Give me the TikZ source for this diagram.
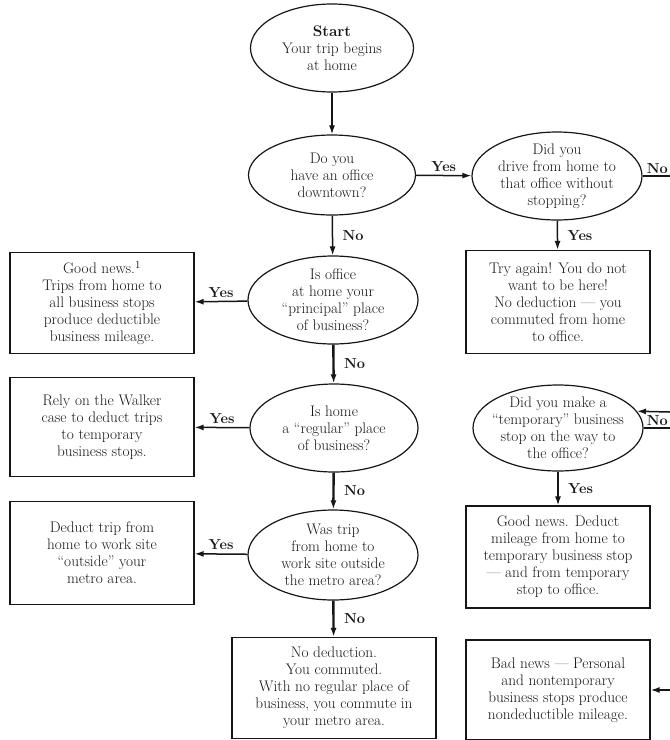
\documentclass[tikz,border=0pt]{standalone}
\usetikzlibrary{arrows.meta, positioning, shapes.geometric}
\definecolor{cink}{HTML}{161616}
\tikzset{
  every picture/.style={line width=1.2pt},
  qtext/.style={align=center, text=cink, font=\fontsize{15.3}{17}\selectfont},
  decision/.style={ellipse, draw=cink, minimum width=170pt, minimum height=88pt, inner sep=0pt},
  outcome/.style={rectangle, draw=cink, qtext, minimum width=184pt, minimum height=101pt, inner sep=3pt},
  flow/.style={-{Latex[length=9pt, width=6pt]}, draw=cink, line width=1.5pt},
  trunk/.style={flow, line width=2.4pt},
  wire/.style={draw=cink, line width=1.5pt},
  answer/.style={font=\bfseries\fontsize{14.5}{16}\selectfont, text=cink},
}

\begin{document}
\begin{tikzpicture}[x=1pt, y=-1pt]
  \useasboundingbox (0,0) rectangle (670,740);
  % main column of questions
  \node[decision, minimum width=163pt, label={[qtext]center:{\textbf{Start}\\Your trip begins\\at home}}] (start) at (332,48) {};
  \node[decision, minimum width=167pt, minimum height=80pt, label={[qtext]center:{Do you\\have an office\\downtown?}}] (office) at (332,175) {};
  \node[decision, label={[qtext]center:{Is office\\at home your\\``principal'' place\\of business?}}] (principal) at (333,300) {};
  \node[decision, minimum width=168pt, label={[qtext]center:{Is home\\a ``regular'' place\\of business?}}] (regular) at (334,428) {};
  \node[decision, minimum height=90pt, label={[qtext]center:{Was trip\\from home to\\work site outside\\the metro area?}}] (outside) at (333,555) {};
  \node[outcome, minimum width=204pt] (nodeduct) at (334,688) {No deduction.\\You commuted.\\With no regular place of\\business, you commute in\\your metro area.};
  % answers on the left
  \node[outcome] (goodnews) at (102,303) {Good news.\textsuperscript{1}\\Trips from home to\\all business stops\\produce deductible\\business mileage.};
  \node[outcome, minimum height=99pt] (walker) at (102,427) {Rely on the Walker\\case to deduct trips\\to temporary\\business stops.};
  \node[outcome, minimum height=103pt] (metro) at (102,553) {Deduct trip from\\home to work site\\``outside'' your\\metro area.};
  % the office branch on the right
  \node[decision, label={[qtext]center:{Did you\\drive from home to\\that office without\\stopping?}}] (drive) at (557,176) {};
  \node[outcome, minimum height=103pt] (tryagain) at (558,302) {Try again! You do not\\want to be here!\\No deduction --- you\\commuted from home\\to office.};
  \node[decision, minimum height=86pt, label={[qtext]center:{Did you make a\\``temporary'' business\\stop on the way to\\the office?}}] (temporary) at (558,428) {};
  \node[outcome, minimum height=102pt] (tempstop) at (558,557) {Good news. Deduct\\mileage from home to\\temporary business stop\\--- and from temporary\\stop to office.};
  \node[outcome, minimum height=100pt] (badnews) at (558,690) {Bad news --- Personal\\and nontemporary\\business stops produce\\nondeductible mileage.};
  % loose ends at the right margin
  \coordinate (driveno) at (670,176);
  \coordinate (tempin) at (670,412);
  \coordinate (tempno) at (670,428);
  \coordinate (badin) at (670,690);

  \draw[flow] (start) -- (office);
  \draw[flow] (office) -- (principal) node[answer, midway, right=6pt] {No};
  \draw[flow] (office) -- (drive) node[answer, midway, above] {Yes};
  \draw[flow] (principal) -- (goodnews) node[answer, midway, above] {Yes};
  \draw[trunk] (principal) -- (regular) node[answer, midway, right=6pt] {No};
  \draw[flow] (regular) -- (walker) node[answer, midway, above] {Yes};
  \draw[trunk] (regular) -- (outside) node[answer, midway, right=6pt] {No};
  \draw[flow] (outside) -- (metro) node[answer, midway, above] {Yes};
  \draw[trunk] (outside) -- (nodeduct) node[answer, midway, right=6pt] {No};
  \draw[flow] (drive) -- (tryagain) node[answer, midway, right=6pt] {Yes};
  \draw[wire] (drive.east) -- (driveno) node[answer, at end, above left, inner sep=1.5pt] {No};
  \draw[flow] (tempin) -- (temporary.12);
  \draw[wire] (temporary.east) -- (tempno) node[answer, at end, above left, inner sep=1.5pt] {No};
  \draw[flow] (temporary) -- (tempstop) node[answer, midway, right=6pt] {Yes};
  \draw[flow] (badin) -- (badnews);
\end{tikzpicture}
\end{document}
